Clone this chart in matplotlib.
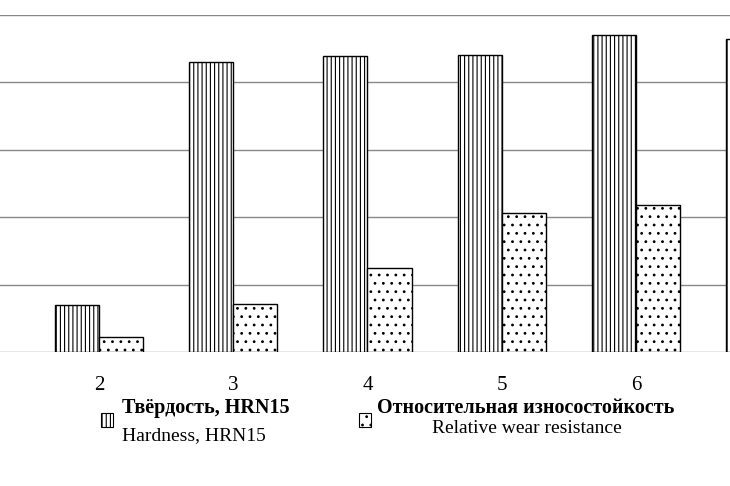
import matplotlib
matplotlib.use("Agg")
import matplotlib.pyplot as plt
import numpy as np
from matplotlib.patches import Rectangle

plt.rcParams['font.family'] = ['Liberation Serif', 'DejaVu Serif']
plt.rcParams['hatch.linewidth'] = 0.8

categories = ["2", "3", "4", "5", "6", "7"]
hardness = [0.70, 4.30, 4.39, 4.41, 4.70, 4.65]
wear = [0.22, 0.71, 1.24, 2.06, 2.18, 2.30]

fig = plt.figure(figsize=(7.30, 4.86), dpi=100)
ax = fig.add_axes([0, 0.2757, 1, 0.6934])
x = np.arange(2, 2 + len(categories))
w = 0.328
ax.bar(x - w/2, hardness, w, facecolor='white', edgecolor='black', hatch='||||', linewidth=1)
ax.bar(x + w/2, wear, w, facecolor='white', edgecolor='black', hatch='..', linewidth=1)
ax.set_xticks(x)
ax.set_xticklabels(categories, fontsize=15)
ax.set_xlim(1.263, 6.70)
ax.set_ylim(0, 5)
ax.set_yticks(np.arange(0, 6, 1))
ax.yaxis.grid(True, color='#888888', linewidth=1)
ax.set_axisbelow(True)
for s in ax.spines.values():
    s.set_visible(False)
ax.tick_params(left=False, bottom=False, labelleft=False)
ax.tick_params(axis='x', pad=14)

# legend
fig.patches.append(Rectangle((101/730, 1-427/486), 12/730, 14/486, transform=fig.transFigure,
                             facecolor='white', edgecolor='black', hatch='||||', linewidth=0.8))
fig.patches.append(Rectangle((359/730, 1-427/486), 12/730, 14/486, transform=fig.transFigure,
                             facecolor='white', edgecolor='black', hatch='..', linewidth=0.8))
fig.text(122/730, 1-408/486, "Твёрдость, HRN15", fontsize=14.5, fontweight='bold', va='center')
fig.text(122/730, 1-436/486, "Hardness, HRN15", fontsize=14, va='center')
fig.text(377/730, 1-408/486, "Относительная износостойкость", fontsize=14.5, fontweight='bold', va='center')
fig.text(432/730, 1-428/486, "Relative wear resistance", fontsize=14, va='center')

fig.savefig("out.png", dpi=100)
